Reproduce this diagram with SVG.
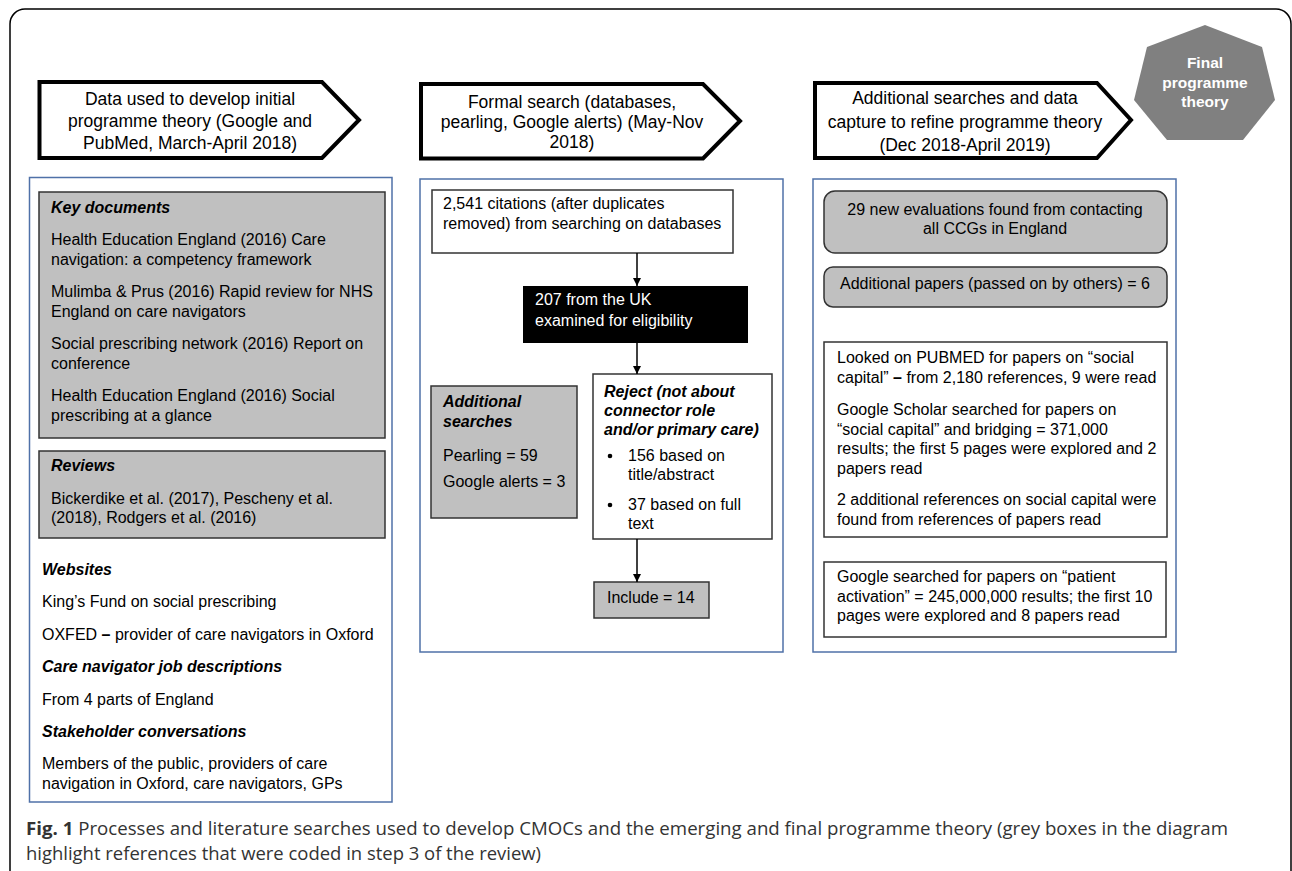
<svg xmlns="http://www.w3.org/2000/svg" width="1292" height="871" viewBox="0 0 1292 871">
<defs>
<style>
.t{font-family:"Liberation Sans",Arial,sans-serif;font-size:16px;fill:#000}
.h{font-family:"Liberation Sans",Arial,sans-serif;font-size:17.5px;fill:#000}
.bi{font-weight:bold;font-style:italic}
.c{text-anchor:middle}
.panel{fill:#fff;stroke:#4f71a8;stroke-width:1.5}
.grey{fill:#c0c0c0;stroke:#333;stroke-width:1.5}
.white{fill:#fff;stroke:#333;stroke-width:1.5}
.stage{fill:#fff;stroke:#000;stroke-width:4;stroke-linejoin:miter}
.conn{stroke:#000;stroke-width:1.5;fill:none}
.cap{font-family:"Open Sans","Noto Sans",sans-serif;font-size:18.5px;fill:#333}
</style>
<marker id="ah" viewBox="0 0 10 10" refX="10" refY="5" markerWidth="7" markerHeight="7" markerUnits="userSpaceOnUse" orient="auto">
<path d="M0,0 L10,5 L0,10 z" fill="#000"/>
</marker>
<marker id="ah2" viewBox="0 0 10 10" refX="10" refY="5" markerWidth="8" markerHeight="8" orient="auto" markerUnits="userSpaceOnUse">
<path d="M0,0 L10,5 L0,10 z" fill="#000"/>
</marker>
</defs>
<rect width="1292" height="871" fill="#fff"/>
<rect x="10" y="9" width="1281" height="900" rx="15" fill="none" stroke="#000" stroke-width="1.5"/>

<g id="stage1">
<polygon class="stage" points="39.5,82 322,82 359,120 322,158 39.5,158"/>
<text class="h c" x="190" y="105">Data used to develop initial</text>
<text class="h c" x="190" y="127">programme theory (Google and</text>
<text class="h c" x="190" y="149">PubMed, March-April 2018)</text>
</g>

<g id="stage2">
<polygon class="stage" points="421,84 703,84 740,121 703,158.5 421,158.5"/>
<text class="h c" x="572" y="108">Formal search (databases,</text>
<text class="h c" x="572" y="128">pearling, Google alerts) (May-Nov</text>
<text class="h c" x="572" y="148">2018)</text>
</g>

<g id="stage3">
<polygon class="stage" points="815,83 1097,83 1131,120 1097,158 815,158"/>
<text class="h c" x="965" y="104">Additional searches and data</text>
<text class="h c" x="965" y="128">capture to refine programme theory</text>
<text class="h c" x="965" y="151">(Dec 2018-April 2019)</text>
</g>

<g id="final">
<polygon points="1205,25 1262,47 1275,100 1243,140 1167,140 1134,100 1147,47" fill="#808080"/>
<text x="1205" y="68" class="c" font-family="Liberation Sans, Arial, sans-serif" font-size="15.5" font-weight="bold" fill="#fff">Final</text>
<text x="1205" y="88" class="c" font-family="Liberation Sans, Arial, sans-serif" font-size="15.5" font-weight="bold" fill="#fff">programme</text>
<text x="1205" y="107" class="c" font-family="Liberation Sans, Arial, sans-serif" font-size="15.5" font-weight="bold" fill="#fff">theory</text>
</g>

<g id="panel1">
<rect class="panel" x="29.5" y="177.5" width="362.5" height="624.5"/>
<g id="key-documents">
<rect class="grey" x="39" y="192" width="346" height="246"/>
<text class="t bi" x="51" y="213">Key documents</text>
<text class="t" x="51" y="245">Health Education England (2016) Care</text>
<text class="t" x="51" y="265">navigation: a competency framework</text>
<text class="t" x="51" y="297">Mulimba &amp; Prus (2016) Rapid review for NHS</text>
<text class="t" x="51" y="317">England on care navigators</text>
<text class="t" x="51" y="349">Social prescribing network (2016) Report on</text>
<text class="t" x="51" y="369">conference</text>
<text class="t" x="51" y="401">Health Education England (2016) Social</text>
<text class="t" x="51" y="421">prescribing at a glance</text>
</g>
<g id="reviews">
<rect class="grey" x="39" y="451" width="346" height="87"/>
<text class="t bi" x="51" y="471">Reviews</text>
<text class="t" x="51" y="504">Bickerdike et al. (2017), Pescheny et al.</text>
<text class="t" x="51" y="523">(2018), Rodgers et al. (2016)</text>
</g>
<g id="other-sources">
<text class="t bi" x="42" y="575">Websites</text>
<text class="t" x="42" y="607">King’s Fund on social prescribing</text>
<text class="t" x="42" y="640">OXFED <tspan font-weight="bold">–</tspan> provider of care navigators in Oxford</text>
<text class="t bi" x="42" y="672">Care navigator job descriptions</text>
<text class="t" x="42" y="705">From 4 parts of England</text>
<text class="t bi" x="42" y="737">Stakeholder conversations</text>
<text class="t" x="42" y="769">Members of the public, providers of care</text>
<text class="t" x="42" y="789">navigation in Oxford, care navigators, GPs</text>
</g>
</g>

<g id="panel2">
<rect class="panel" x="420" y="179" width="363" height="473"/>
<g id="citations">
<rect class="white" x="432" y="190" width="301" height="63"/>
<text class="t" x="443" y="209">2,541 citations (after duplicates</text>
<text class="t" x="443" y="229">removed) from searching on databases</text>
</g>
<g id="uk">
<rect x="523" y="286" width="225" height="57" fill="#000"/>
<text class="t" x="535" y="305" fill="#fff" style="fill:#fff">207 from the UK</text>
<text class="t" x="535" y="326" style="fill:#fff">examined for eligibility</text>
</g>
<g id="additional">
<rect class="grey" x="431" y="386" width="146" height="132"/>
<text class="t bi" x="443" y="407">Additional</text>
<text class="t bi" x="443" y="427">searches</text>
<text class="t" x="443" y="461">Pearling = 59</text>
<text class="t" x="443" y="487">Google alerts = 3</text>
</g>
<g id="reject">
<rect class="white" x="593" y="374" width="179" height="165"/>
<text class="t bi" x="604" y="397">Reject (not about</text>
<text class="t bi" x="604" y="416">connector role</text>
<text class="t bi" x="604" y="435">and/or primary care)</text>
<circle cx="610" cy="456" r="2.3" fill="#000"/>
<text class="t" x="628" y="461">156 based on</text>
<text class="t" x="628" y="480">title/abstract</text>
<circle cx="610" cy="505" r="2.3" fill="#000"/>
<text class="t" x="628" y="510">37 based on full</text>
<text class="t" x="628" y="529">text</text>
</g>
<g id="include">
<rect class="grey" x="594" y="582" width="115" height="36"/>
<text class="t" x="607" y="603">Include = 14</text>
</g>
</g>

<g id="panel3">
<rect class="panel" x="813" y="179" width="363" height="473"/>
<g id="ccgs">
<rect class="grey" x="824" y="191" width="343" height="62" rx="11"/>
<text class="t c" x="995" y="215">29 new evaluations found from contacting</text>
<text class="t c" x="995" y="234">all CCGs in England</text>
</g>
<g id="passed">
<rect class="grey" x="824" y="267" width="343" height="40" rx="9"/>
<text class="t c" x="995" y="289">Additional papers (passed on by others) = 6</text>
</g>
<g id="social-capital">
<rect class="white" x="824" y="342" width="343" height="195"/>
<text class="t" x="837" y="363">Looked on PUBMED for papers on “social</text>
<text class="t" x="837" y="383">capital” <tspan font-weight="bold">–</tspan> from 2,180 references, 9 were read</text>
<text class="t" x="837" y="415">Google Scholar searched for papers on</text>
<text class="t" x="837" y="435">“social capital” and bridging = 371,000</text>
<text class="t" x="837" y="454">results; the first 5 pages were explored and 2</text>
<text class="t" x="837" y="474">papers read</text>
<text class="t" x="837" y="505">2 additional references on social capital were</text>
<text class="t" x="837" y="525">found from references of papers read</text>
</g>
<g id="activation">
<rect class="white" x="824" y="562" width="342" height="75"/>
<text class="t" x="837" y="582">Google searched for papers on “patient</text>
<text class="t" x="837" y="602">activation” = 245,000,000 results; the first 10</text>
<text class="t" x="837" y="621">pages were explored and 8 papers read</text>
</g>
</g>

<g id="connectors">
<line class="conn" x1="637" y1="253" x2="637" y2="286" marker-end="url(#ah2)"/>
<line class="conn" x1="637" y1="343" x2="637" y2="374" marker-end="url(#ah2)"/>
<line class="conn" x1="637" y1="539" x2="637" y2="582" marker-end="url(#ah2)"/>
</g>

<g id="caption">
<text class="cap" x="26" y="835" textLength="1202" lengthAdjust="spacingAndGlyphs"><tspan font-weight="bold">Fig. 1</tspan> Processes and literature searches used to develop CMOCs and the emerging and final programme theory (grey boxes in the diagram</text>
<text class="cap" x="26" y="860" textLength="515" lengthAdjust="spacingAndGlyphs">highlight references that were coded in step 3 of the review)</text>
</g>
</svg>
